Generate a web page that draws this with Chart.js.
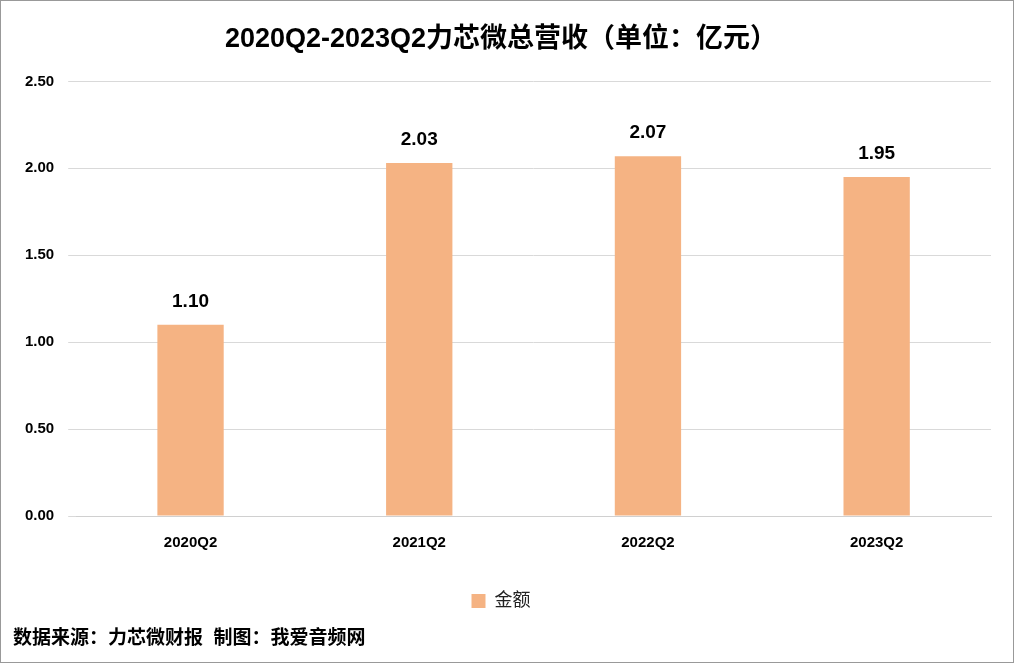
<!DOCTYPE html>
<html lang="zh">
<head>
  <meta charset="UTF-8" />
  <script src="https://cdn.jsdelivr.net/npm/chart.js"></script>
  <style>
    * { margin: 0; padding: 0; box-sizing: border-box; }
    body { background: #fff; }
    .wrap { width: 1014px; height: 663px; border: 1px solid #999; position: relative; }
  </style>
</head>
<body>
  <div class="wrap"><canvas id="c" width="1012" height="661"></canvas></div>
  <script>
    const categories = ['2020Q2', '2021Q2', '2022Q2', '2023Q2'];
    const revenue = [1.10, 2.03, 2.07, 1.95];
    const seriesName = '金额';
    const yTicks = [0, 0.5, 1, 1.5, 2, 2.5];

    const FONT = "'Liberation Sans', 'Noto Sans CJK SC', sans-serif";

    // value labels above bars + source note at the bottom
    const extras = {
      id: 'extras',
      afterDatasetsDraw(chart) {
        const ctx = chart.ctx;
        ctx.save();
        ctx.fillStyle = '#000';
        ctx.font = 'bold 19px ' + FONT;
        ctx.textAlign = 'center';
        ctx.textBaseline = 'bottom';
        chart.getDatasetMeta(0).data.forEach((bar, i) => {
          ctx.fillText(revenue[i].toFixed(2), bar.x, bar.y - 14);
        });
        ctx.font = 'bold 19px ' + FONT;
        ctx.textAlign = 'left';
        ctx.textBaseline = 'middle';
        ctx.fillText('数据来源：力芯微财报  制图：我爱音频网', 12, 638);
        ctx.restore();
      }
    };

    new Chart(document.getElementById('c'), {
      type: 'bar',
      data: {
        labels: categories,
        datasets: [{
          label: seriesName,
          data: revenue,
          backgroundColor: '#F5B383',
          barPercentage: 0.29,
          categoryPercentage: 1
        }]
      },
      options: {
        responsive: false,
        animation: false,
        layout: { padding: { left: 10, right: 22, top: 0, bottom: 42 } },
        plugins: {
          title: {
            display: true,
            text: '2020Q2-2023Q2力芯微总营收（单位：亿元）',
            color: '#000',
            font: { family: FONT, size: 27, weight: 'bold' },
            padding: { top: 22, bottom: 26 }
          },
          legend: {
            position: 'bottom',
            labels: {
              color: '#222',
              boxWidth: 14, boxHeight: 14,
              font: { family: FONT, size: 18 },
              padding: 30
            }
          },
          tooltip: { enabled: false }
        },
        scales: {
          x: {
            grid: { display: false },
            border: { color: '#d0d0d0' },
            ticks: { color: '#000', font: { family: FONT, size: 15, weight: 'bold' }, padding: 10 }
          },
          y: {
            min: 0, max: 2.5,
            afterBuildTicks: axis => { axis.ticks = yTicks.map(v => ({ value: v })); },
            grid: { color: '#d9d9d9' },
            border: { display: false },
            ticks: {
              color: '#000', padding: 14,
              font: { family: FONT, size: 15, weight: 'bold' },
              callback: v => v.toFixed(2)
            }
          }
        }
      },
      plugins: [extras]
    });
  </script>
</body>
</html>
